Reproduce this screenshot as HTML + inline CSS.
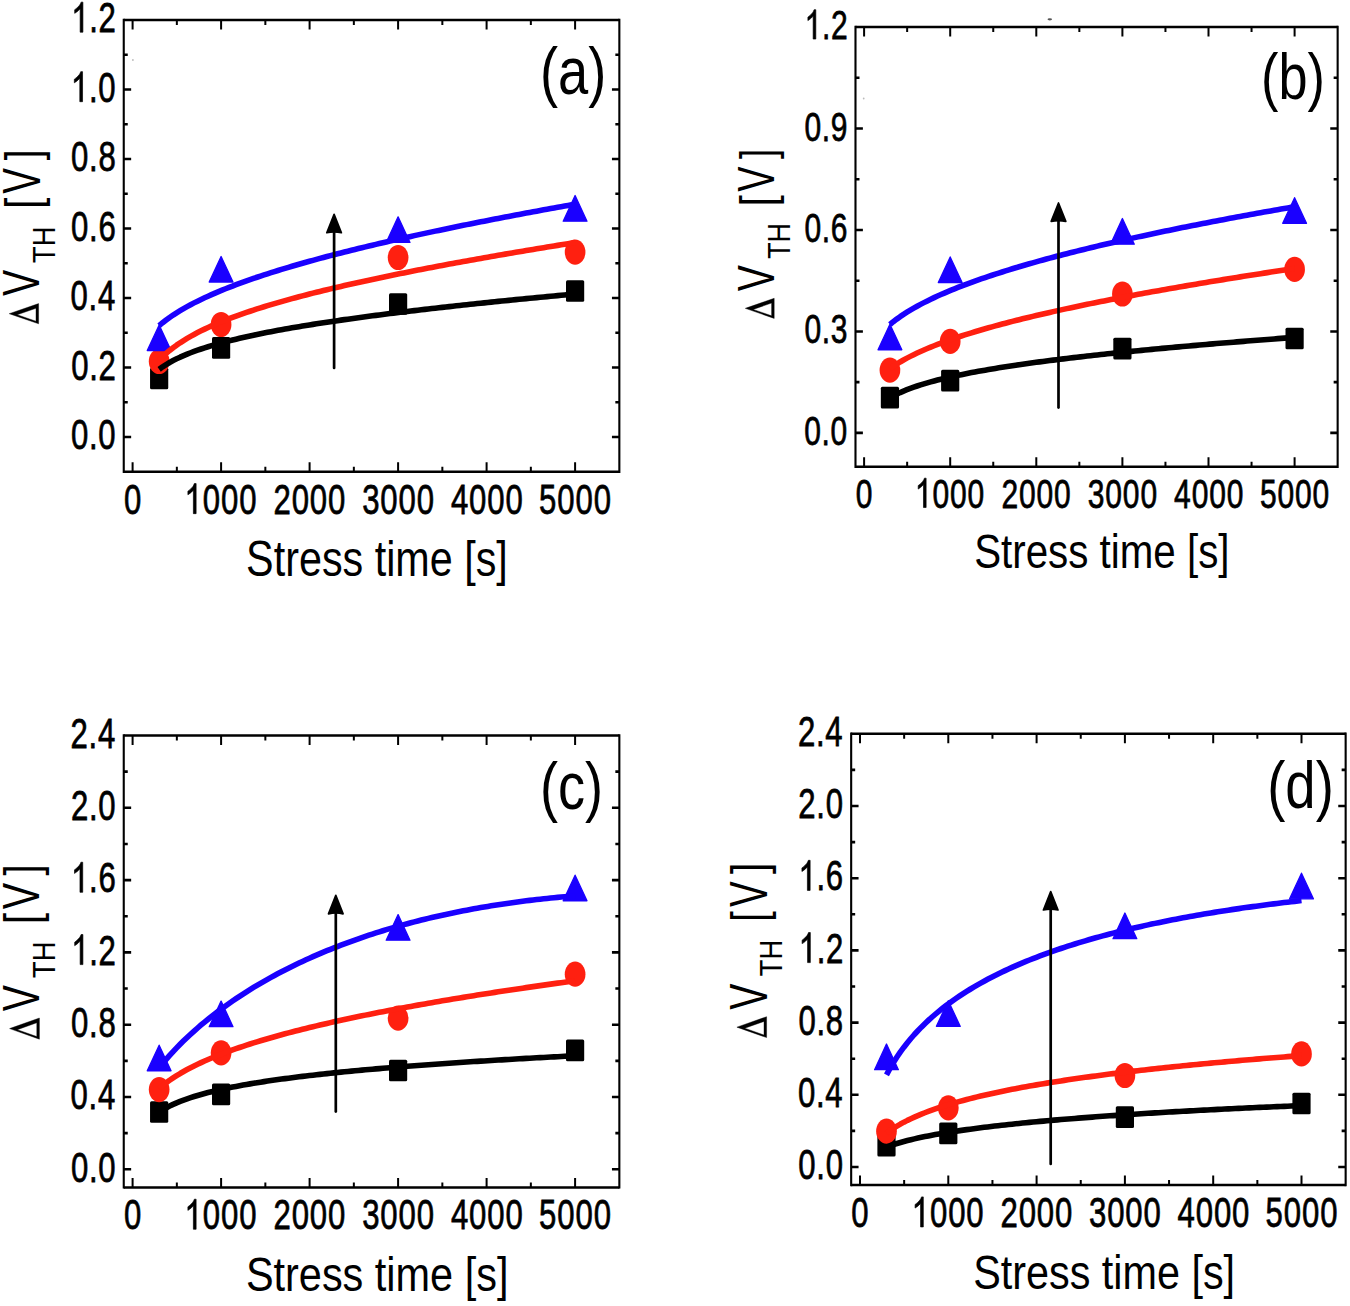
<!DOCTYPE html><html><head><meta charset="utf-8"><style>html,body{margin:0;padding:0;background:#fff;}svg{display:block;}text{font-family:"Liberation Sans",sans-serif;}</style></head><body><svg width="1350" height="1306" viewBox="0 0 1350 1306"><rect width="1350" height="1306" fill="#fff"/><g><path d="M123.75,20.00H619.35M123.75,471.75H619.35" stroke="#000" stroke-width="2.5" fill="none"/><path d="M123.75,18.80V472.95M619.35,18.80V472.95" stroke="#000" stroke-width="2.1" fill="none"/><path d="M132.60,471.75v-9.5M132.60,20.00v9.5M176.85,471.75v-5.0M176.85,20.00v5.0M221.10,471.75v-9.5M221.10,20.00v9.5M265.35,471.75v-5.0M265.35,20.00v5.0M309.60,471.75v-9.5M309.60,20.00v9.5M353.85,471.75v-5.0M353.85,20.00v5.0M398.10,471.75v-9.5M398.10,20.00v9.5M442.35,471.75v-5.0M442.35,20.00v5.0M486.60,471.75v-9.5M486.60,20.00v9.5M530.85,471.75v-5.0M530.85,20.00v5.0M575.10,471.75v-9.5M575.10,20.00v9.5" stroke="#000" stroke-width="2" fill="none"/><path d="M123.75,437.00h7.4M619.35,437.00h-7.4M123.75,402.25h4.0M619.35,402.25h-4.0M123.75,367.50h7.4M619.35,367.50h-7.4M123.75,332.75h4.0M619.35,332.75h-4.0M123.75,298.00h7.4M619.35,298.00h-7.4M123.75,263.25h4.0M619.35,263.25h-4.0M123.75,228.50h7.4M619.35,228.50h-7.4M123.75,193.75h4.0M619.35,193.75h-4.0M123.75,159.00h7.4M619.35,159.00h-7.4M123.75,124.25h4.0M619.35,124.25h-4.0M123.75,89.50h7.4M619.35,89.50h-7.4M123.75,54.75h4.0M619.35,54.75h-4.0" stroke="#000" stroke-width="2.6" fill="none"/><g transform="translate(123.49,513.65) scale(0.7800,1)"><text transform="translate(11.68,0) scale(0.95,1) translate(-11.68,0)" font-size="42.00" stroke="#000" stroke-width="0.75">0</text></g><g transform="translate(184.06,513.65) scale(0.7800,1)"><path transform="translate(11.68,0) scale(0.95,1) translate(-11.68,0) scale(0.04200,-0.04200)" d="M372.6,0 L284.7,0 L284.7,560 C250,528 200,495 150,470 C130,460 118,454 108.9,450 L108.9,535 C165,560 220,600 266,643 C290,667 305,690 315.4,716 L372.6,716 Z" stroke="#000" stroke-width="17.857"/><text transform="translate(35.03,0) scale(0.95,1) translate(-11.68,0)" font-size="42.00" stroke="#000" stroke-width="0.75">0</text><text transform="translate(58.38,0) scale(0.95,1) translate(-11.68,0)" font-size="42.00" stroke="#000" stroke-width="0.75">0</text><text transform="translate(81.73,0) scale(0.95,1) translate(-11.68,0)" font-size="42.00" stroke="#000" stroke-width="0.75">0</text></g><g transform="translate(272.99,513.65) scale(0.7800,1)"><text transform="translate(11.68,0) scale(0.95,1) translate(-11.68,0)" font-size="42.00" stroke="#000" stroke-width="0.75">2</text><text transform="translate(35.03,0) scale(0.95,1) translate(-11.68,0)" font-size="42.00" stroke="#000" stroke-width="0.75">0</text><text transform="translate(58.38,0) scale(0.95,1) translate(-11.68,0)" font-size="42.00" stroke="#000" stroke-width="0.75">0</text><text transform="translate(81.73,0) scale(0.95,1) translate(-11.68,0)" font-size="42.00" stroke="#000" stroke-width="0.75">0</text></g><g transform="translate(361.69,513.65) scale(0.7800,1)"><text transform="translate(11.68,0) scale(0.95,1) translate(-11.68,0)" font-size="42.00" stroke="#000" stroke-width="0.75">3</text><text transform="translate(35.03,0) scale(0.95,1) translate(-11.68,0)" font-size="42.00" stroke="#000" stroke-width="0.75">0</text><text transform="translate(58.38,0) scale(0.95,1) translate(-11.68,0)" font-size="42.00" stroke="#000" stroke-width="0.75">0</text><text transform="translate(81.73,0) scale(0.95,1) translate(-11.68,0)" font-size="42.00" stroke="#000" stroke-width="0.75">0</text></g><g transform="translate(450.43,513.65) scale(0.7800,1)"><text transform="translate(11.68,0) scale(0.95,1) translate(-11.68,0)" font-size="42.00" stroke="#000" stroke-width="0.75">4</text><text transform="translate(35.03,0) scale(0.95,1) translate(-11.68,0)" font-size="42.00" stroke="#000" stroke-width="0.75">0</text><text transform="translate(58.38,0) scale(0.95,1) translate(-11.68,0)" font-size="42.00" stroke="#000" stroke-width="0.75">0</text><text transform="translate(81.73,0) scale(0.95,1) translate(-11.68,0)" font-size="42.00" stroke="#000" stroke-width="0.75">0</text></g><g transform="translate(538.65,513.65) scale(0.7800,1)"><text transform="translate(11.68,0) scale(0.95,1) translate(-11.68,0)" font-size="42.00" stroke="#000" stroke-width="0.75">5</text><text transform="translate(35.03,0) scale(0.95,1) translate(-11.68,0)" font-size="42.00" stroke="#000" stroke-width="0.75">0</text><text transform="translate(58.38,0) scale(0.95,1) translate(-11.68,0)" font-size="42.00" stroke="#000" stroke-width="0.75">0</text><text transform="translate(81.73,0) scale(0.95,1) translate(-11.68,0)" font-size="42.00" stroke="#000" stroke-width="0.75">0</text></g><g transform="translate(70.49,449.20) scale(0.7800,1)"><text transform="translate(11.68,0) scale(0.95,1) translate(-11.68,0)" font-size="42.00" stroke="#000" stroke-width="0.75">0</text><text transform="translate(29.19,0) scale(0.95,1) translate(-5.84,0)" font-size="42.00" stroke="#000" stroke-width="0.75">.</text><text transform="translate(46.70,0) scale(0.95,1) translate(-11.68,0)" font-size="42.00" stroke="#000" stroke-width="0.75">0</text></g><g transform="translate(70.85,379.70) scale(0.7800,1)"><text transform="translate(11.68,0) scale(0.95,1) translate(-11.68,0)" font-size="42.00" stroke="#000" stroke-width="0.75">0</text><text transform="translate(29.19,0) scale(0.95,1) translate(-5.84,0)" font-size="42.00" stroke="#000" stroke-width="0.75">.</text><text transform="translate(46.70,0) scale(0.95,1) translate(-11.68,0)" font-size="42.00" stroke="#000" stroke-width="0.75">2</text></g><g transform="translate(70.16,310.20) scale(0.7800,1)"><text transform="translate(11.68,0) scale(0.95,1) translate(-11.68,0)" font-size="42.00" stroke="#000" stroke-width="0.75">0</text><text transform="translate(29.19,0) scale(0.95,1) translate(-5.84,0)" font-size="42.00" stroke="#000" stroke-width="0.75">.</text><text transform="translate(46.70,0) scale(0.95,1) translate(-11.68,0)" font-size="42.00" stroke="#000" stroke-width="0.75">4</text></g><g transform="translate(70.66,240.70) scale(0.7800,1)"><text transform="translate(11.68,0) scale(0.95,1) translate(-11.68,0)" font-size="42.00" stroke="#000" stroke-width="0.75">0</text><text transform="translate(29.19,0) scale(0.95,1) translate(-5.84,0)" font-size="42.00" stroke="#000" stroke-width="0.75">.</text><text transform="translate(46.70,0) scale(0.95,1) translate(-11.68,0)" font-size="42.00" stroke="#000" stroke-width="0.75">6</text></g><g transform="translate(70.62,171.20) scale(0.7800,1)"><text transform="translate(11.68,0) scale(0.95,1) translate(-11.68,0)" font-size="42.00" stroke="#000" stroke-width="0.75">0</text><text transform="translate(29.19,0) scale(0.95,1) translate(-5.84,0)" font-size="42.00" stroke="#000" stroke-width="0.75">.</text><text transform="translate(46.70,0) scale(0.95,1) translate(-11.68,0)" font-size="42.00" stroke="#000" stroke-width="0.75">8</text></g><g transform="translate(70.49,101.70) scale(0.7800,1)"><path transform="translate(11.68,0) scale(0.95,1) translate(-11.68,0) scale(0.04200,-0.04200)" d="M372.6,0 L284.7,0 L284.7,560 C250,528 200,495 150,470 C130,460 118,454 108.9,450 L108.9,535 C165,560 220,600 266,643 C290,667 305,690 315.4,716 L372.6,716 Z" stroke="#000" stroke-width="17.857"/><text transform="translate(29.19,0) scale(0.95,1) translate(-5.84,0)" font-size="42.00" stroke="#000" stroke-width="0.75">.</text><text transform="translate(46.70,0) scale(0.95,1) translate(-11.68,0)" font-size="42.00" stroke="#000" stroke-width="0.75">0</text></g><g transform="translate(70.85,32.20) scale(0.7800,1)"><path transform="translate(11.68,0) scale(0.95,1) translate(-11.68,0) scale(0.04200,-0.04200)" d="M372.6,0 L284.7,0 L284.7,560 C250,528 200,495 150,470 C130,460 118,454 108.9,450 L108.9,535 C165,560 220,600 266,643 C290,667 305,690 315.4,716 L372.6,716 Z" stroke="#000" stroke-width="17.857"/><text transform="translate(29.19,0) scale(0.95,1) translate(-5.84,0)" font-size="42.00" stroke="#000" stroke-width="0.75">.</text><text transform="translate(46.70,0) scale(0.95,1) translate(-11.68,0)" font-size="42.00" stroke="#000" stroke-width="0.75">2</text></g><text transform="translate(540.03,93.79) scale(0.8133,1)" font-family='"Liberation Sans", sans-serif' font-size="66.74" fill="#000">(a)</text><text transform="translate(246.10,576.20) scale(0.8187,1)" font-family='"Liberation Sans", sans-serif' font-size="50.48" fill="#000">Stress time [s]</text><path d="M9.20,313.70L38.60,323.80L38.60,303.60ZM17.20,314.76L36.00,308.30L36.00,321.22Z" fill="#000" fill-rule="evenodd" stroke="#000" stroke-width="0.4" stroke-linejoin="round"/><text transform="translate(39.00,296.00) rotate(-90) scale(0.7463,1)" font-family='"Liberation Sans", sans-serif' font-size="52.62" fill="#000">V</text><text transform="translate(55.10,262.90) rotate(-90) scale(0.8504,1)" font-family='"Liberation Sans", sans-serif' font-size="32.12" fill="#000">TH</text><text transform="translate(39.58,160.21) rotate(-90) scale(0.7748,1)" font-family='"Liberation Sans", sans-serif' font-size="50.59" fill="#000">]</text><text transform="translate(39.60,193.79) rotate(-90) scale(0.7219,1)" font-family='"Liberation Sans", sans-serif' font-size="53.34" fill="#000">V</text><text transform="translate(39.58,208.65) rotate(-90) scale(0.7947,1)" font-family='"Liberation Sans", sans-serif' font-size="50.59" fill="#000">[</text><rect x="150.05" y="367.65" width="18.2" height="21.7" rx="1.5" fill="#000"/><rect x="212.00" y="337.05" width="18.2" height="21.7" rx="1.5" fill="#000"/><rect x="389.00" y="293.15" width="18.2" height="21.7" rx="1.5" fill="#000"/><rect x="566.00" y="280.15" width="18.2" height="21.7" rx="1.5" fill="#000"/><ellipse cx="159.15" cy="361.50" rx="10.35" ry="12.6" fill="#ff2010"/><ellipse cx="221.10" cy="324.50" rx="10.35" ry="12.6" fill="#ff2010"/><ellipse cx="398.10" cy="257.50" rx="10.35" ry="12.6" fill="#ff2010"/><ellipse cx="575.10" cy="252.10" rx="10.35" ry="12.6" fill="#ff2010"/><path d="M159.15,325.00L171.05,350.60H147.25Z" fill="#1a00ff" stroke="#1a00ff" stroke-width="1.3" stroke-linejoin="round"/><path d="M221.10,256.50L233.00,282.10H209.20Z" fill="#1a00ff" stroke="#1a00ff" stroke-width="1.3" stroke-linejoin="round"/><path d="M398.10,216.85L410.00,242.45H386.20Z" fill="#1a00ff" stroke="#1a00ff" stroke-width="1.3" stroke-linejoin="round"/><path d="M575.10,195.55L587.00,221.15H563.20Z" fill="#1a00ff" stroke="#1a00ff" stroke-width="1.3" stroke-linejoin="round"/><path d="M159.15,369.36L162.65,366.83L166.14,364.56L169.64,362.49L173.13,360.58L176.63,358.81L180.12,357.16L183.62,355.61L187.11,354.15L190.61,352.76L194.10,351.45L197.60,350.20L201.09,349.00L204.59,347.85L208.09,346.75L211.58,345.69L215.08,344.66L218.57,343.67L222.07,342.72L225.56,341.79L229.06,340.89L232.55,340.01L236.05,339.16L239.54,338.33L243.04,337.52L246.53,336.74L250.03,335.97L253.53,335.21L257.02,334.48L260.52,333.76L264.01,333.05L267.51,332.36L271.00,331.68L274.50,331.01L277.99,330.36L281.49,329.72L284.98,329.08L288.48,328.46L291.97,327.85L295.47,327.25L298.97,326.66L302.46,326.07L305.96,325.50L309.45,324.93L312.95,324.37L316.44,323.82L319.94,323.27L323.43,322.74L326.93,322.21L330.42,321.68L333.92,321.16L337.41,320.65L340.91,320.14L344.41,319.64L347.90,319.15L351.40,318.66L354.89,318.17L358.39,317.69L361.88,317.22L365.38,316.75L368.87,316.28L372.37,315.82L375.86,315.37L379.36,314.91L382.85,314.47L386.35,314.02L389.84,313.58L393.34,313.14L396.84,312.71L400.33,312.28L403.83,311.86L407.32,311.43L410.82,311.01L414.31,310.60L417.81,310.19L421.30,309.78L424.80,309.37L428.29,308.96L431.79,308.56L435.28,308.17L438.78,307.77L442.28,307.38L445.77,306.99L449.27,306.60L452.76,306.21L456.26,305.83L459.75,305.45L463.25,305.07L466.74,304.70L470.24,304.32L473.73,303.95L477.23,303.58L480.72,303.22L484.22,302.85L487.72,302.49L491.21,302.13L494.71,301.77L498.20,301.41L501.70,301.06L505.19,300.71L508.69,300.35L512.18,300.00L515.68,299.66L519.17,299.31L522.67,298.97L526.16,298.62L529.66,298.28L533.16,297.94L536.65,297.61L540.15,297.27L543.64,296.94L547.14,296.60L550.63,296.27L554.13,295.94L557.62,295.61L561.12,295.28L564.61,294.96L568.11,294.63L571.60,294.31L575.10,293.99" stroke="#000" stroke-width="5.6" fill="none" stroke-linejoin="round" stroke-linecap="butt"/><path d="M159.15,360.30L162.65,356.70L166.14,353.45L169.64,350.48L173.13,347.73L176.63,345.17L180.12,342.78L183.62,340.53L187.11,338.40L190.61,336.37L194.10,334.45L197.60,332.60L201.09,330.83L204.59,329.13L208.09,327.50L211.58,325.92L215.08,324.39L218.57,322.91L222.07,321.47L225.56,320.08L229.06,318.72L232.55,317.39L236.05,316.10L239.54,314.85L243.04,313.61L246.53,312.41L250.03,311.23L253.53,310.08L257.02,308.95L260.52,307.84L264.01,306.75L267.51,305.68L271.00,304.62L274.50,303.59L277.99,302.57L281.49,301.57L284.98,300.58L288.48,299.61L291.97,298.65L295.47,297.70L298.97,296.77L302.46,295.85L305.96,294.94L309.45,294.04L312.95,293.15L316.44,292.28L319.94,291.41L323.43,290.55L326.93,289.70L330.42,288.86L333.92,288.03L337.41,287.21L340.91,286.40L344.41,285.59L347.90,284.79L351.40,284.00L354.89,283.22L358.39,282.44L361.88,281.67L365.38,280.90L368.87,280.14L372.37,279.39L375.86,278.65L379.36,277.91L382.85,277.17L386.35,276.44L389.84,275.72L393.34,275.00L396.84,274.29L400.33,273.58L403.83,272.88L407.32,272.18L410.82,271.48L414.31,270.79L417.81,270.11L421.30,269.43L424.80,268.75L428.29,268.08L431.79,267.41L435.28,266.74L438.78,266.08L442.28,265.42L445.77,264.77L449.27,264.12L452.76,263.47L456.26,262.83L459.75,262.19L463.25,261.55L466.74,260.91L470.24,260.28L473.73,259.66L477.23,259.03L480.72,258.41L484.22,257.79L487.72,257.17L491.21,256.56L494.71,255.95L498.20,255.34L501.70,254.74L505.19,254.13L508.69,253.53L512.18,252.93L515.68,252.34L519.17,251.75L522.67,251.15L526.16,250.57L529.66,249.98L533.16,249.40L536.65,248.81L540.15,248.23L543.64,247.66L547.14,247.08L550.63,246.51L554.13,245.94L557.62,245.37L561.12,244.80L564.61,244.23L568.11,243.67L571.60,243.11L575.10,242.55" stroke="#ff2010" stroke-width="5.6" fill="none" stroke-linejoin="round" stroke-linecap="butt"/><path d="M159.15,325.66L162.65,322.72L166.14,320.00L169.64,317.45L173.13,315.06L176.63,312.79L180.12,310.64L183.62,308.58L187.11,306.61L190.61,304.72L194.10,302.89L197.60,301.13L201.09,299.43L204.59,297.78L208.09,296.18L211.58,294.62L215.08,293.10L218.57,291.62L222.07,290.18L225.56,288.77L229.06,287.39L232.55,286.04L236.05,284.71L239.54,283.41L243.04,282.14L246.53,280.89L250.03,279.66L253.53,278.45L257.02,277.26L260.52,276.09L264.01,274.94L267.51,273.81L271.00,272.69L274.50,271.59L277.99,270.50L281.49,269.42L284.98,268.36L288.48,267.32L291.97,266.28L295.47,265.26L298.97,264.25L302.46,263.26L305.96,262.27L309.45,261.29L312.95,260.33L316.44,259.37L319.94,258.42L323.43,257.48L326.93,256.56L330.42,255.64L333.92,254.73L337.41,253.82L340.91,252.93L344.41,252.04L347.90,251.16L351.40,250.29L354.89,249.42L358.39,248.56L361.88,247.71L365.38,246.87L368.87,246.03L372.37,245.20L375.86,244.37L379.36,243.55L382.85,242.74L386.35,241.93L389.84,241.12L393.34,240.33L396.84,239.53L400.33,238.74L403.83,237.96L407.32,237.18L410.82,236.41L414.31,235.64L417.81,234.88L421.30,234.12L424.80,233.37L428.29,232.62L431.79,231.87L435.28,231.13L438.78,230.39L442.28,229.66L445.77,228.93L449.27,228.20L452.76,227.48L456.26,226.76L459.75,226.05L463.25,225.34L466.74,224.63L470.24,223.92L473.73,223.22L477.23,222.53L480.72,221.83L484.22,221.14L487.72,220.45L491.21,219.77L494.71,219.09L498.20,218.41L501.70,217.73L505.19,217.06L508.69,216.39L512.18,215.72L515.68,215.06L519.17,214.40L522.67,213.74L526.16,213.08L529.66,212.43L533.16,211.78L536.65,211.13L540.15,210.48L543.64,209.84L547.14,209.20L550.63,208.56L554.13,207.92L557.62,207.29L561.12,206.66L564.61,206.03L568.11,205.40L571.60,204.77L575.10,204.15" stroke="#1a00ff" stroke-width="5.6" fill="none" stroke-linejoin="round" stroke-linecap="butt"/><path d="M334.10,368.00V228.30" stroke="#000" stroke-width="2.7" fill="none" stroke-linecap="round"/><path d="M334.10,214.30L341.40,232.70Q334.10,231.10 326.80,232.70Z" fill="#000" stroke="#000" stroke-width="1.7" stroke-linejoin="round"/></g>
<g><path d="M855.49,27.06H1337.65M855.49,466.72H1337.65" stroke="#000" stroke-width="2.5" fill="none"/><path d="M855.49,25.86V467.92M1337.65,25.86V467.92" stroke="#000" stroke-width="2.1" fill="none"/><path d="M864.10,466.72v-9.5M864.10,27.06v9.5M907.15,466.72v-5.0M907.15,27.06v5.0M950.20,466.72v-9.5M950.20,27.06v9.5M993.25,466.72v-5.0M993.25,27.06v5.0M1036.30,466.72v-9.5M1036.30,27.06v9.5M1079.35,466.72v-5.0M1079.35,27.06v5.0M1122.40,466.72v-9.5M1122.40,27.06v9.5M1165.45,466.72v-5.0M1165.45,27.06v5.0M1208.50,466.72v-9.5M1208.50,27.06v9.5M1251.55,466.72v-5.0M1251.55,27.06v5.0M1294.60,466.72v-9.5M1294.60,27.06v9.5" stroke="#000" stroke-width="2" fill="none"/><path d="M855.49,432.90h7.4M1337.65,432.90h-7.4M855.49,382.17h4.0M1337.65,382.17h-4.0M855.49,331.44h7.4M1337.65,331.44h-7.4M855.49,280.71h4.0M1337.65,280.71h-4.0M855.49,229.98h7.4M1337.65,229.98h-7.4M855.49,179.25h4.0M1337.65,179.25h-4.0M855.49,128.52h7.4M1337.65,128.52h-7.4M855.49,77.79h4.0M1337.65,77.79h-4.0" stroke="#000" stroke-width="2.6" fill="none"/><g transform="translate(855.32,507.52) scale(0.7700,1)"><text transform="translate(11.40,0) scale(0.95,1) translate(-11.40,0)" font-size="41.00" stroke="#000" stroke-width="0.75">0</text></g><g transform="translate(914.51,507.52) scale(0.7700,1)"><path transform="translate(11.40,0) scale(0.95,1) translate(-11.40,0) scale(0.04100,-0.04100)" d="M372.6,0 L284.7,0 L284.7,560 C250,528 200,495 150,470 C130,460 118,454 108.9,450 L108.9,535 C165,560 220,600 266,643 C290,667 305,690 315.4,716 L372.6,716 Z" stroke="#000" stroke-width="18.293"/><text transform="translate(34.19,0) scale(0.95,1) translate(-11.40,0)" font-size="41.00" stroke="#000" stroke-width="0.75">0</text><text transform="translate(56.99,0) scale(0.95,1) translate(-11.40,0)" font-size="41.00" stroke="#000" stroke-width="0.75">0</text><text transform="translate(79.79,0) scale(0.95,1) translate(-11.40,0)" font-size="41.00" stroke="#000" stroke-width="0.75">0</text></g><g transform="translate(1001.02,507.52) scale(0.7700,1)"><text transform="translate(11.40,0) scale(0.95,1) translate(-11.40,0)" font-size="41.00" stroke="#000" stroke-width="0.75">2</text><text transform="translate(34.19,0) scale(0.95,1) translate(-11.40,0)" font-size="41.00" stroke="#000" stroke-width="0.75">0</text><text transform="translate(56.99,0) scale(0.95,1) translate(-11.40,0)" font-size="41.00" stroke="#000" stroke-width="0.75">0</text><text transform="translate(79.79,0) scale(0.95,1) translate(-11.40,0)" font-size="41.00" stroke="#000" stroke-width="0.75">0</text></g><g transform="translate(1087.31,507.52) scale(0.7700,1)"><text transform="translate(11.40,0) scale(0.95,1) translate(-11.40,0)" font-size="41.00" stroke="#000" stroke-width="0.75">3</text><text transform="translate(34.19,0) scale(0.95,1) translate(-11.40,0)" font-size="41.00" stroke="#000" stroke-width="0.75">0</text><text transform="translate(56.99,0) scale(0.95,1) translate(-11.40,0)" font-size="41.00" stroke="#000" stroke-width="0.75">0</text><text transform="translate(79.79,0) scale(0.95,1) translate(-11.40,0)" font-size="41.00" stroke="#000" stroke-width="0.75">0</text></g><g transform="translate(1173.65,507.52) scale(0.7700,1)"><text transform="translate(11.40,0) scale(0.95,1) translate(-11.40,0)" font-size="41.00" stroke="#000" stroke-width="0.75">4</text><text transform="translate(34.19,0) scale(0.95,1) translate(-11.40,0)" font-size="41.00" stroke="#000" stroke-width="0.75">0</text><text transform="translate(56.99,0) scale(0.95,1) translate(-11.40,0)" font-size="41.00" stroke="#000" stroke-width="0.75">0</text><text transform="translate(79.79,0) scale(0.95,1) translate(-11.40,0)" font-size="41.00" stroke="#000" stroke-width="0.75">0</text></g><g transform="translate(1259.48,507.52) scale(0.7700,1)"><text transform="translate(11.40,0) scale(0.95,1) translate(-11.40,0)" font-size="41.00" stroke="#000" stroke-width="0.75">5</text><text transform="translate(34.19,0) scale(0.95,1) translate(-11.40,0)" font-size="41.00" stroke="#000" stroke-width="0.75">0</text><text transform="translate(56.99,0) scale(0.95,1) translate(-11.40,0)" font-size="41.00" stroke="#000" stroke-width="0.75">0</text><text transform="translate(79.79,0) scale(0.95,1) translate(-11.40,0)" font-size="41.00" stroke="#000" stroke-width="0.75">0</text></g><g transform="translate(803.84,444.90) scale(0.7700,1)"><text transform="translate(11.40,0) scale(0.95,1) translate(-11.40,0)" font-size="41.00" stroke="#000" stroke-width="0.75">0</text><text transform="translate(28.50,0) scale(0.95,1) translate(-5.70,0)" font-size="41.00" stroke="#000" stroke-width="0.75">.</text><text transform="translate(45.59,0) scale(0.95,1) translate(-11.40,0)" font-size="41.00" stroke="#000" stroke-width="0.75">0</text></g><g transform="translate(804.00,343.44) scale(0.7700,1)"><text transform="translate(11.40,0) scale(0.95,1) translate(-11.40,0)" font-size="41.00" stroke="#000" stroke-width="0.75">0</text><text transform="translate(28.50,0) scale(0.95,1) translate(-5.70,0)" font-size="41.00" stroke="#000" stroke-width="0.75">.</text><text transform="translate(45.59,0) scale(0.95,1) translate(-11.40,0)" font-size="41.00" stroke="#000" stroke-width="0.75">3</text></g><g transform="translate(804.00,241.98) scale(0.7700,1)"><text transform="translate(11.40,0) scale(0.95,1) translate(-11.40,0)" font-size="41.00" stroke="#000" stroke-width="0.75">0</text><text transform="translate(28.50,0) scale(0.95,1) translate(-5.70,0)" font-size="41.00" stroke="#000" stroke-width="0.75">.</text><text transform="translate(45.59,0) scale(0.95,1) translate(-11.40,0)" font-size="41.00" stroke="#000" stroke-width="0.75">6</text></g><g transform="translate(804.09,140.52) scale(0.7700,1)"><text transform="translate(11.40,0) scale(0.95,1) translate(-11.40,0)" font-size="41.00" stroke="#000" stroke-width="0.75">0</text><text transform="translate(28.50,0) scale(0.95,1) translate(-5.70,0)" font-size="41.00" stroke="#000" stroke-width="0.75">.</text><text transform="translate(45.59,0) scale(0.95,1) translate(-11.40,0)" font-size="41.00" stroke="#000" stroke-width="0.75">9</text></g><g transform="translate(804.19,39.06) scale(0.7700,1)"><path transform="translate(11.40,0) scale(0.95,1) translate(-11.40,0) scale(0.04100,-0.04100)" d="M372.6,0 L284.7,0 L284.7,560 C250,528 200,495 150,470 C130,460 118,454 108.9,450 L108.9,535 C165,560 220,600 266,643 C290,667 305,690 315.4,716 L372.6,716 Z" stroke="#000" stroke-width="18.293"/><text transform="translate(28.50,0) scale(0.95,1) translate(-5.70,0)" font-size="41.00" stroke="#000" stroke-width="0.75">.</text><text transform="translate(45.59,0) scale(0.95,1) translate(-11.40,0)" font-size="41.00" stroke="#000" stroke-width="0.75">2</text></g><text transform="translate(1261.06,98.61) scale(0.8080,1)" font-family='"Liberation Sans", sans-serif' font-size="64.70" fill="#000">(b)</text><text transform="translate(974.15,567.88) scale(0.8453,1)" font-family='"Liberation Sans", sans-serif' font-size="47.70" fill="#000">Stress time [s]</text><path d="M745.30,308.35L774.20,318.40L774.20,298.30ZM753.22,309.41L771.60,303.02L771.60,315.80Z" fill="#000" fill-rule="evenodd" stroke="#000" stroke-width="0.4" stroke-linejoin="round"/><text transform="translate(774.20,291.30) rotate(-90) scale(0.7602,1)" font-family='"Liberation Sans", sans-serif' font-size="51.45" fill="#000">V</text><text transform="translate(789.80,258.79) rotate(-90) scale(0.8707,1)" font-family='"Liberation Sans", sans-serif' font-size="30.81" fill="#000">TH</text><text transform="translate(773.77,158.89) rotate(-90) scale(0.7606,1)" font-family='"Liberation Sans", sans-serif' font-size="48.23" fill="#000">]</text><text transform="translate(774.20,191.69) rotate(-90) scale(0.7366,1)" font-family='"Liberation Sans", sans-serif' font-size="51.45" fill="#000">V</text><text transform="translate(773.77,206.35) rotate(-90) scale(0.8335,1)" font-family='"Liberation Sans", sans-serif' font-size="48.23" fill="#000">[</text><rect x="880.83" y="386.75" width="18.2" height="21.7" rx="1.5" fill="#000"/><rect x="941.10" y="369.75" width="18.2" height="21.7" rx="1.5" fill="#000"/><rect x="1113.30" y="337.75" width="18.2" height="21.7" rx="1.5" fill="#000"/><rect x="1285.50" y="327.65" width="18.2" height="21.7" rx="1.5" fill="#000"/><ellipse cx="889.93" cy="370.10" rx="10.35" ry="12.6" fill="#ff2010"/><ellipse cx="950.20" cy="341.40" rx="10.35" ry="12.6" fill="#ff2010"/><ellipse cx="1122.40" cy="294.00" rx="10.35" ry="12.6" fill="#ff2010"/><ellipse cx="1294.60" cy="269.40" rx="10.35" ry="12.6" fill="#ff2010"/><path d="M889.93,324.15L901.83,349.75H878.03Z" fill="#1a00ff" stroke="#1a00ff" stroke-width="1.3" stroke-linejoin="round"/><path d="M950.20,256.95L962.10,282.55H938.30Z" fill="#1a00ff" stroke="#1a00ff" stroke-width="1.3" stroke-linejoin="round"/><path d="M1122.40,218.55L1134.30,244.15H1110.50Z" fill="#1a00ff" stroke="#1a00ff" stroke-width="1.3" stroke-linejoin="round"/><path d="M1294.60,197.70L1306.50,223.30H1282.70Z" fill="#1a00ff" stroke="#1a00ff" stroke-width="1.3" stroke-linejoin="round"/><path d="M889.93,397.91L893.33,395.97L896.73,394.20L900.13,392.59L903.53,391.09L906.93,389.70L910.33,388.40L913.73,387.17L917.13,386.01L920.54,384.91L923.94,383.86L927.34,382.85L930.74,381.89L934.14,380.97L937.54,380.08L940.94,379.23L944.34,378.40L947.74,377.60L951.14,376.83L954.54,376.08L957.94,375.35L961.34,374.64L964.74,373.95L968.14,373.27L971.54,372.62L974.94,371.98L978.35,371.35L981.75,370.74L985.15,370.14L988.55,369.55L991.95,368.97L995.35,368.41L998.75,367.86L1002.15,367.31L1005.55,366.78L1008.95,366.26L1012.35,365.74L1015.75,365.23L1019.15,364.73L1022.55,364.24L1025.95,363.76L1029.35,363.28L1032.75,362.81L1036.16,362.35L1039.56,361.90L1042.96,361.45L1046.36,361.00L1049.76,360.56L1053.16,360.13L1056.56,359.70L1059.96,359.28L1063.36,358.86L1066.76,358.45L1070.16,358.04L1073.56,357.64L1076.96,357.24L1080.36,356.85L1083.76,356.46L1087.16,356.07L1090.56,355.69L1093.97,355.31L1097.37,354.94L1100.77,354.57L1104.17,354.20L1107.57,353.83L1110.97,353.47L1114.37,353.12L1117.77,352.76L1121.17,352.41L1124.57,352.06L1127.97,351.72L1131.37,351.37L1134.77,351.03L1138.17,350.70L1141.57,350.36L1144.97,350.03L1148.37,349.70L1151.78,349.38L1155.18,349.05L1158.58,348.73L1161.98,348.41L1165.38,348.09L1168.78,347.78L1172.18,347.47L1175.58,347.16L1178.98,346.85L1182.38,346.54L1185.78,346.24L1189.18,345.93L1192.58,345.63L1195.98,345.34L1199.38,345.04L1202.78,344.74L1206.18,344.45L1209.59,344.16L1212.99,343.87L1216.39,343.58L1219.79,343.30L1223.19,343.01L1226.59,342.73L1229.99,342.45L1233.39,342.17L1236.79,341.89L1240.19,341.61L1243.59,341.34L1246.99,341.06L1250.39,340.79L1253.79,340.52L1257.19,340.25L1260.59,339.98L1263.99,339.71L1267.40,339.45L1270.80,339.18L1274.20,338.92L1277.60,338.66L1281.00,338.40L1284.40,338.14L1287.80,337.88L1291.20,337.62L1294.60,337.37" stroke="#000" stroke-width="5.6" fill="none" stroke-linejoin="round" stroke-linecap="butt"/><path d="M889.93,368.70L893.33,366.30L896.73,364.06L900.13,361.97L903.53,360.00L906.93,358.13L910.33,356.36L913.73,354.66L917.13,353.04L920.54,351.48L923.94,349.97L927.34,348.52L930.74,347.11L934.14,345.75L937.54,344.42L940.94,343.13L944.34,341.88L947.74,340.65L951.14,339.46L954.54,338.29L957.94,337.15L961.34,336.03L964.74,334.93L968.14,333.86L971.54,332.80L974.94,331.77L978.35,330.75L981.75,329.75L985.15,328.77L988.55,327.80L991.95,326.85L995.35,325.91L998.75,324.98L1002.15,324.07L1005.55,323.17L1008.95,322.28L1012.35,321.40L1015.75,320.54L1019.15,319.68L1022.55,318.84L1025.95,318.00L1029.35,317.17L1032.75,316.36L1036.16,315.55L1039.56,314.75L1042.96,313.96L1046.36,313.18L1049.76,312.40L1053.16,311.63L1056.56,310.87L1059.96,310.12L1063.36,309.37L1066.76,308.63L1070.16,307.90L1073.56,307.17L1076.96,306.45L1080.36,305.74L1083.76,305.03L1087.16,304.32L1090.56,303.63L1093.97,302.93L1097.37,302.25L1100.77,301.56L1104.17,300.89L1107.57,300.22L1110.97,299.55L1114.37,298.88L1117.77,298.23L1121.17,297.57L1124.57,296.92L1127.97,296.28L1131.37,295.64L1134.77,295.00L1138.17,294.37L1141.57,293.74L1144.97,293.11L1148.37,292.49L1151.78,291.87L1155.18,291.26L1158.58,290.64L1161.98,290.04L1165.38,289.43L1168.78,288.83L1172.18,288.23L1175.58,287.64L1178.98,287.05L1182.38,286.46L1185.78,285.87L1189.18,285.29L1192.58,284.71L1195.98,284.14L1199.38,283.56L1202.78,282.99L1206.18,282.42L1209.59,281.86L1212.99,281.29L1216.39,280.73L1219.79,280.18L1223.19,279.62L1226.59,279.07L1229.99,278.52L1233.39,277.97L1236.79,277.42L1240.19,276.88L1243.59,276.34L1246.99,275.80L1250.39,275.26L1253.79,274.73L1257.19,274.20L1260.59,273.67L1263.99,273.14L1267.40,272.61L1270.80,272.09L1274.20,271.56L1277.60,271.04L1281.00,270.53L1284.40,270.01L1287.80,269.50L1291.20,268.98L1294.60,268.47" stroke="#ff2010" stroke-width="5.6" fill="none" stroke-linejoin="round" stroke-linecap="butt"/><path d="M889.93,324.46L893.33,321.68L896.73,319.10L900.13,316.67L903.53,314.38L906.93,312.20L910.33,310.12L913.73,308.14L917.13,306.23L920.54,304.40L923.94,302.63L927.34,300.91L930.74,299.25L934.14,297.64L937.54,296.08L940.94,294.56L944.34,293.07L947.74,291.62L951.14,290.21L954.54,288.83L957.94,287.47L961.34,286.15L964.74,284.85L968.14,283.58L971.54,282.33L974.94,281.10L978.35,279.89L981.75,278.70L985.15,277.54L988.55,276.39L991.95,275.26L995.35,274.14L998.75,273.05L1002.15,271.96L1005.55,270.89L1008.95,269.84L1012.35,268.80L1015.75,267.77L1019.15,266.76L1022.55,265.76L1025.95,264.77L1029.35,263.79L1032.75,262.82L1036.16,261.87L1039.56,260.92L1042.96,259.98L1046.36,259.06L1049.76,258.14L1053.16,257.23L1056.56,256.33L1059.96,255.44L1063.36,254.56L1066.76,253.68L1070.16,252.82L1073.56,251.96L1076.96,251.11L1080.36,250.26L1083.76,249.43L1087.16,248.60L1090.56,247.77L1093.97,246.96L1097.37,246.15L1100.77,245.34L1104.17,244.54L1107.57,243.75L1110.97,242.97L1114.37,242.19L1117.77,241.41L1121.17,240.64L1124.57,239.88L1127.97,239.12L1131.37,238.37L1134.77,237.62L1138.17,236.88L1141.57,236.14L1144.97,235.40L1148.37,234.67L1151.78,233.95L1155.18,233.23L1158.58,232.51L1161.98,231.80L1165.38,231.09L1168.78,230.39L1172.18,229.69L1175.58,229.00L1178.98,228.30L1182.38,227.62L1185.78,226.93L1189.18,226.25L1192.58,225.58L1195.98,224.90L1199.38,224.23L1202.78,223.57L1206.18,222.91L1209.59,222.25L1212.99,221.59L1216.39,220.94L1219.79,220.29L1223.19,219.64L1226.59,219.00L1229.99,218.36L1233.39,217.72L1236.79,217.09L1240.19,216.46L1243.59,215.83L1246.99,215.20L1250.39,214.58L1253.79,213.96L1257.19,213.34L1260.59,212.73L1263.99,212.11L1267.40,211.51L1270.80,210.90L1274.20,210.29L1277.60,209.69L1281.00,209.09L1284.40,208.50L1287.80,207.90L1291.20,207.31L1294.60,206.72" stroke="#1a00ff" stroke-width="5.6" fill="none" stroke-linejoin="round" stroke-linecap="butt"/><path d="M1058.50,407.60V217.00" stroke="#000" stroke-width="2.7" fill="none" stroke-linecap="round"/><path d="M1058.50,203.00L1065.80,221.40Q1058.50,219.80 1051.20,221.40Z" fill="#000" stroke="#000" stroke-width="1.7" stroke-linejoin="round"/></g>
<g><path d="M123.75,735.50H619.35M123.75,1187.38H619.35" stroke="#000" stroke-width="2.5" fill="none"/><path d="M123.75,734.30V1188.58M619.35,734.30V1188.58" stroke="#000" stroke-width="2.1" fill="none"/><path d="M132.60,1187.38v-9.5M132.60,735.50v9.5M176.85,1187.38v-5.0M176.85,735.50v5.0M221.10,1187.38v-9.5M221.10,735.50v9.5M265.35,1187.38v-5.0M265.35,735.50v5.0M309.60,1187.38v-9.5M309.60,735.50v9.5M353.85,1187.38v-5.0M353.85,735.50v5.0M398.10,1187.38v-9.5M398.10,735.50v9.5M442.35,1187.38v-5.0M442.35,735.50v5.0M486.60,1187.38v-9.5M486.60,735.50v9.5M530.85,1187.38v-5.0M530.85,735.50v5.0M575.10,1187.38v-9.5M575.10,735.50v9.5" stroke="#000" stroke-width="2" fill="none"/><path d="M123.75,1169.30h7.4M619.35,1169.30h-7.4M123.75,1133.15h4.0M619.35,1133.15h-4.0M123.75,1097.00h7.4M619.35,1097.00h-7.4M123.75,1060.85h4.0M619.35,1060.85h-4.0M123.75,1024.70h7.4M619.35,1024.70h-7.4M123.75,988.55h4.0M619.35,988.55h-4.0M123.75,952.40h7.4M619.35,952.40h-7.4M123.75,916.25h4.0M619.35,916.25h-4.0M123.75,880.10h7.4M619.35,880.10h-7.4M123.75,843.95h4.0M619.35,843.95h-4.0M123.75,807.80h7.4M619.35,807.80h-7.4M123.75,771.65h4.0M619.35,771.65h-4.0" stroke="#000" stroke-width="2.6" fill="none"/><g transform="translate(123.49,1229.28) scale(0.7800,1)"><text transform="translate(11.68,0) scale(0.95,1) translate(-11.68,0)" font-size="42.00" stroke="#000" stroke-width="0.75">0</text></g><g transform="translate(184.06,1229.28) scale(0.7800,1)"><path transform="translate(11.68,0) scale(0.95,1) translate(-11.68,0) scale(0.04200,-0.04200)" d="M372.6,0 L284.7,0 L284.7,560 C250,528 200,495 150,470 C130,460 118,454 108.9,450 L108.9,535 C165,560 220,600 266,643 C290,667 305,690 315.4,716 L372.6,716 Z" stroke="#000" stroke-width="17.857"/><text transform="translate(35.03,0) scale(0.95,1) translate(-11.68,0)" font-size="42.00" stroke="#000" stroke-width="0.75">0</text><text transform="translate(58.38,0) scale(0.95,1) translate(-11.68,0)" font-size="42.00" stroke="#000" stroke-width="0.75">0</text><text transform="translate(81.73,0) scale(0.95,1) translate(-11.68,0)" font-size="42.00" stroke="#000" stroke-width="0.75">0</text></g><g transform="translate(272.99,1229.28) scale(0.7800,1)"><text transform="translate(11.68,0) scale(0.95,1) translate(-11.68,0)" font-size="42.00" stroke="#000" stroke-width="0.75">2</text><text transform="translate(35.03,0) scale(0.95,1) translate(-11.68,0)" font-size="42.00" stroke="#000" stroke-width="0.75">0</text><text transform="translate(58.38,0) scale(0.95,1) translate(-11.68,0)" font-size="42.00" stroke="#000" stroke-width="0.75">0</text><text transform="translate(81.73,0) scale(0.95,1) translate(-11.68,0)" font-size="42.00" stroke="#000" stroke-width="0.75">0</text></g><g transform="translate(361.69,1229.28) scale(0.7800,1)"><text transform="translate(11.68,0) scale(0.95,1) translate(-11.68,0)" font-size="42.00" stroke="#000" stroke-width="0.75">3</text><text transform="translate(35.03,0) scale(0.95,1) translate(-11.68,0)" font-size="42.00" stroke="#000" stroke-width="0.75">0</text><text transform="translate(58.38,0) scale(0.95,1) translate(-11.68,0)" font-size="42.00" stroke="#000" stroke-width="0.75">0</text><text transform="translate(81.73,0) scale(0.95,1) translate(-11.68,0)" font-size="42.00" stroke="#000" stroke-width="0.75">0</text></g><g transform="translate(450.43,1229.28) scale(0.7800,1)"><text transform="translate(11.68,0) scale(0.95,1) translate(-11.68,0)" font-size="42.00" stroke="#000" stroke-width="0.75">4</text><text transform="translate(35.03,0) scale(0.95,1) translate(-11.68,0)" font-size="42.00" stroke="#000" stroke-width="0.75">0</text><text transform="translate(58.38,0) scale(0.95,1) translate(-11.68,0)" font-size="42.00" stroke="#000" stroke-width="0.75">0</text><text transform="translate(81.73,0) scale(0.95,1) translate(-11.68,0)" font-size="42.00" stroke="#000" stroke-width="0.75">0</text></g><g transform="translate(538.65,1229.28) scale(0.7800,1)"><text transform="translate(11.68,0) scale(0.95,1) translate(-11.68,0)" font-size="42.00" stroke="#000" stroke-width="0.75">5</text><text transform="translate(35.03,0) scale(0.95,1) translate(-11.68,0)" font-size="42.00" stroke="#000" stroke-width="0.75">0</text><text transform="translate(58.38,0) scale(0.95,1) translate(-11.68,0)" font-size="42.00" stroke="#000" stroke-width="0.75">0</text><text transform="translate(81.73,0) scale(0.95,1) translate(-11.68,0)" font-size="42.00" stroke="#000" stroke-width="0.75">0</text></g><g transform="translate(70.49,1181.50) scale(0.7800,1)"><text transform="translate(11.68,0) scale(0.95,1) translate(-11.68,0)" font-size="42.00" stroke="#000" stroke-width="0.75">0</text><text transform="translate(29.19,0) scale(0.95,1) translate(-5.84,0)" font-size="42.00" stroke="#000" stroke-width="0.75">.</text><text transform="translate(46.70,0) scale(0.95,1) translate(-11.68,0)" font-size="42.00" stroke="#000" stroke-width="0.75">0</text></g><g transform="translate(70.16,1109.20) scale(0.7800,1)"><text transform="translate(11.68,0) scale(0.95,1) translate(-11.68,0)" font-size="42.00" stroke="#000" stroke-width="0.75">0</text><text transform="translate(29.19,0) scale(0.95,1) translate(-5.84,0)" font-size="42.00" stroke="#000" stroke-width="0.75">.</text><text transform="translate(46.70,0) scale(0.95,1) translate(-11.68,0)" font-size="42.00" stroke="#000" stroke-width="0.75">4</text></g><g transform="translate(70.62,1036.90) scale(0.7800,1)"><text transform="translate(11.68,0) scale(0.95,1) translate(-11.68,0)" font-size="42.00" stroke="#000" stroke-width="0.75">0</text><text transform="translate(29.19,0) scale(0.95,1) translate(-5.84,0)" font-size="42.00" stroke="#000" stroke-width="0.75">.</text><text transform="translate(46.70,0) scale(0.95,1) translate(-11.68,0)" font-size="42.00" stroke="#000" stroke-width="0.75">8</text></g><g transform="translate(70.85,964.60) scale(0.7800,1)"><path transform="translate(11.68,0) scale(0.95,1) translate(-11.68,0) scale(0.04200,-0.04200)" d="M372.6,0 L284.7,0 L284.7,560 C250,528 200,495 150,470 C130,460 118,454 108.9,450 L108.9,535 C165,560 220,600 266,643 C290,667 305,690 315.4,716 L372.6,716 Z" stroke="#000" stroke-width="17.857"/><text transform="translate(29.19,0) scale(0.95,1) translate(-5.84,0)" font-size="42.00" stroke="#000" stroke-width="0.75">.</text><text transform="translate(46.70,0) scale(0.95,1) translate(-11.68,0)" font-size="42.00" stroke="#000" stroke-width="0.75">2</text></g><g transform="translate(70.66,892.30) scale(0.7800,1)"><path transform="translate(11.68,0) scale(0.95,1) translate(-11.68,0) scale(0.04200,-0.04200)" d="M372.6,0 L284.7,0 L284.7,560 C250,528 200,495 150,470 C130,460 118,454 108.9,450 L108.9,535 C165,560 220,600 266,643 C290,667 305,690 315.4,716 L372.6,716 Z" stroke="#000" stroke-width="17.857"/><text transform="translate(29.19,0) scale(0.95,1) translate(-5.84,0)" font-size="42.00" stroke="#000" stroke-width="0.75">.</text><text transform="translate(46.70,0) scale(0.95,1) translate(-11.68,0)" font-size="42.00" stroke="#000" stroke-width="0.75">6</text></g><g transform="translate(70.49,820.00) scale(0.7800,1)"><text transform="translate(11.68,0) scale(0.95,1) translate(-11.68,0)" font-size="42.00" stroke="#000" stroke-width="0.75">2</text><text transform="translate(29.19,0) scale(0.95,1) translate(-5.84,0)" font-size="42.00" stroke="#000" stroke-width="0.75">.</text><text transform="translate(46.70,0) scale(0.95,1) translate(-11.68,0)" font-size="42.00" stroke="#000" stroke-width="0.75">0</text></g><g transform="translate(70.16,747.70) scale(0.7800,1)"><text transform="translate(11.68,0) scale(0.95,1) translate(-11.68,0)" font-size="42.00" stroke="#000" stroke-width="0.75">2</text><text transform="translate(29.19,0) scale(0.95,1) translate(-5.84,0)" font-size="42.00" stroke="#000" stroke-width="0.75">.</text><text transform="translate(46.70,0) scale(0.95,1) translate(-11.68,0)" font-size="42.00" stroke="#000" stroke-width="0.75">4</text></g><text transform="translate(540.04,808.69) scale(0.8110,1)" font-family='"Liberation Sans", sans-serif' font-size="66.74" fill="#000">(c)</text><text transform="translate(245.89,1291.43) scale(0.8483,1)" font-family='"Liberation Sans", sans-serif' font-size="48.87" fill="#000">Stress time [s]</text><path d="M9.60,1028.60L39.40,1039.20L39.40,1018.00ZM17.36,1029.66L36.80,1022.75L36.80,1036.58Z" fill="#000" fill-rule="evenodd" stroke="#000" stroke-width="0.4" stroke-linejoin="round"/><text transform="translate(39.40,1011.30) rotate(-90) scale(0.7434,1)" font-family='"Liberation Sans", sans-serif' font-size="52.62" fill="#000">V</text><text transform="translate(55.40,977.90) rotate(-90) scale(0.8687,1)" font-family='"Liberation Sans", sans-serif' font-size="31.54" fill="#000">TH</text><text transform="translate(39.18,875.62) rotate(-90) scale(0.8101,1)" font-family='"Liberation Sans", sans-serif' font-size="49.62" fill="#000">]</text><text transform="translate(39.40,909.30) rotate(-90) scale(0.7521,1)" font-family='"Liberation Sans", sans-serif' font-size="52.62" fill="#000">V</text><text transform="translate(39.18,923.95) rotate(-90) scale(0.8101,1)" font-family='"Liberation Sans", sans-serif' font-size="49.62" fill="#000">[</text><rect x="150.05" y="1101.15" width="18.2" height="21.7" rx="1.5" fill="#000"/><rect x="212.00" y="1083.55" width="18.2" height="21.7" rx="1.5" fill="#000"/><rect x="389.00" y="1059.65" width="18.2" height="21.7" rx="1.5" fill="#000"/><rect x="566.00" y="1039.45" width="18.2" height="21.7" rx="1.5" fill="#000"/><ellipse cx="159.15" cy="1089.60" rx="10.35" ry="12.6" fill="#ff2010"/><ellipse cx="221.10" cy="1052.80" rx="10.35" ry="12.6" fill="#ff2010"/><ellipse cx="398.10" cy="1018.20" rx="10.35" ry="12.6" fill="#ff2010"/><ellipse cx="575.10" cy="974.20" rx="10.35" ry="12.6" fill="#ff2010"/><path d="M159.15,1045.15L171.05,1070.75H147.25Z" fill="#1a00ff" stroke="#1a00ff" stroke-width="1.3" stroke-linejoin="round"/><path d="M221.10,1001.10L233.00,1026.70H209.20Z" fill="#1a00ff" stroke="#1a00ff" stroke-width="1.3" stroke-linejoin="round"/><path d="M398.10,914.60L410.00,940.20H386.20Z" fill="#1a00ff" stroke="#1a00ff" stroke-width="1.3" stroke-linejoin="round"/><path d="M575.10,875.15L587.00,900.75H563.20Z" fill="#1a00ff" stroke="#1a00ff" stroke-width="1.3" stroke-linejoin="round"/><path d="M159.15,1112.18L162.65,1109.92L166.14,1107.90L169.64,1106.07L173.13,1104.39L176.63,1102.84L180.12,1101.41L183.62,1100.07L187.11,1098.82L190.61,1097.63L194.10,1096.52L197.60,1095.46L201.09,1094.45L204.59,1093.49L208.09,1092.57L211.58,1091.69L215.08,1090.85L218.57,1090.04L222.07,1089.26L225.56,1088.51L229.06,1087.78L232.55,1087.08L236.05,1086.40L239.54,1085.74L243.04,1085.10L246.53,1084.48L250.03,1083.88L253.53,1083.29L257.02,1082.72L260.52,1082.16L264.01,1081.62L267.51,1081.09L271.00,1080.58L274.50,1080.07L277.99,1079.58L281.49,1079.09L284.98,1078.62L288.48,1078.16L291.97,1077.70L295.47,1077.26L298.97,1076.82L302.46,1076.40L305.96,1075.98L309.45,1075.57L312.95,1075.16L316.44,1074.76L319.94,1074.37L323.43,1073.99L326.93,1073.61L330.42,1073.24L333.92,1072.88L337.41,1072.52L340.91,1072.16L344.41,1071.81L347.90,1071.47L351.40,1071.13L354.89,1070.80L358.39,1070.47L361.88,1070.15L365.38,1069.83L368.87,1069.51L372.37,1069.20L375.86,1068.89L379.36,1068.59L382.85,1068.29L386.35,1067.99L389.84,1067.70L393.34,1067.41L396.84,1067.13L400.33,1066.85L403.83,1066.57L407.32,1066.29L410.82,1066.02L414.31,1065.75L417.81,1065.49L421.30,1065.22L424.80,1064.96L428.29,1064.71L431.79,1064.45L435.28,1064.20L438.78,1063.95L442.28,1063.70L445.77,1063.46L449.27,1063.22L452.76,1062.98L456.26,1062.74L459.75,1062.50L463.25,1062.27L466.74,1062.04L470.24,1061.81L473.73,1061.58L477.23,1061.36L480.72,1061.14L484.22,1060.92L487.72,1060.70L491.21,1060.48L494.71,1060.27L498.20,1060.05L501.70,1059.84L505.19,1059.63L508.69,1059.43L512.18,1059.22L515.68,1059.02L519.17,1058.81L522.67,1058.61L526.16,1058.41L529.66,1058.21L533.16,1058.02L536.65,1057.82L540.15,1057.63L543.64,1057.44L547.14,1057.25L550.63,1057.06L554.13,1056.87L557.62,1056.68L561.12,1056.50L564.61,1056.32L568.11,1056.13L571.60,1055.95L575.10,1055.77" stroke="#000" stroke-width="5.6" fill="none" stroke-linejoin="round" stroke-linecap="butt"/><path d="M159.15,1088.57L162.65,1085.59L166.14,1082.84L169.64,1080.29L173.13,1077.90L176.63,1075.65L180.12,1073.52L183.62,1071.49L187.11,1069.56L190.61,1067.72L194.10,1065.95L197.60,1064.25L201.09,1062.61L204.59,1061.02L208.09,1059.49L211.58,1058.00L215.08,1056.56L218.57,1055.17L222.07,1053.80L225.56,1052.48L229.06,1051.19L232.55,1049.93L236.05,1048.70L239.54,1047.49L243.04,1046.32L246.53,1045.16L250.03,1044.03L253.53,1042.93L257.02,1041.84L260.52,1040.78L264.01,1039.73L267.51,1038.70L271.00,1037.69L274.50,1036.70L277.99,1035.72L281.49,1034.76L284.98,1033.82L288.48,1032.88L291.97,1031.97L295.47,1031.06L298.97,1030.17L302.46,1029.29L305.96,1028.42L309.45,1027.56L312.95,1026.71L316.44,1025.88L319.94,1025.05L323.43,1024.24L326.93,1023.43L330.42,1022.64L333.92,1021.85L337.41,1021.07L340.91,1020.30L344.41,1019.54L347.90,1018.79L351.40,1018.04L354.89,1017.30L358.39,1016.57L361.88,1015.85L365.38,1015.13L368.87,1014.43L372.37,1013.72L375.86,1013.03L379.36,1012.34L382.85,1011.65L386.35,1010.98L389.84,1010.30L393.34,1009.64L396.84,1008.98L400.33,1008.32L403.83,1007.68L407.32,1007.03L410.82,1006.39L414.31,1005.76L417.81,1005.13L421.30,1004.51L424.80,1003.89L428.29,1003.27L431.79,1002.66L435.28,1002.06L438.78,1001.46L442.28,1000.86L445.77,1000.27L449.27,999.68L452.76,999.10L456.26,998.52L459.75,997.94L463.25,997.37L466.74,996.80L470.24,996.23L473.73,995.67L477.23,995.11L480.72,994.56L484.22,994.01L487.72,993.46L491.21,992.92L494.71,992.37L498.20,991.84L501.70,991.30L505.19,990.77L508.69,990.24L512.18,989.72L515.68,989.19L519.17,988.67L522.67,988.16L526.16,987.64L529.66,987.13L533.16,986.62L536.65,986.12L540.15,985.61L543.64,985.11L547.14,984.62L550.63,984.12L554.13,983.63L557.62,983.14L561.12,982.65L564.61,982.16L568.11,981.68L571.60,981.20L575.10,980.72" stroke="#ff2010" stroke-width="5.6" fill="none" stroke-linejoin="round" stroke-linecap="butt"/><path d="M159.15,1067.74L162.65,1063.44L166.14,1059.32L169.64,1055.36L173.13,1051.54L176.63,1047.86L180.12,1044.29L183.62,1040.84L187.11,1037.49L190.61,1034.23L194.10,1031.07L197.60,1027.99L201.09,1024.99L204.59,1022.07L208.09,1019.22L211.58,1016.43L215.08,1013.72L218.57,1011.06L222.07,1008.47L225.56,1005.93L229.06,1003.45L232.55,1001.03L236.05,998.65L239.54,996.32L243.04,994.05L246.53,991.81L250.03,989.63L253.53,987.48L257.02,985.38L260.52,983.32L264.01,981.30L267.51,979.32L271.00,977.37L274.50,975.47L277.99,973.59L281.49,971.76L284.98,969.95L288.48,968.18L291.97,966.45L295.47,964.74L298.97,963.07L302.46,961.42L305.96,959.81L309.45,958.22L312.95,956.66L316.44,955.14L319.94,953.63L323.43,952.16L326.93,950.71L330.42,949.29L333.92,947.89L337.41,946.52L340.91,945.17L344.41,943.84L347.90,942.54L351.40,941.27L354.89,940.01L358.39,938.78L361.88,937.57L365.38,936.38L368.87,935.21L372.37,934.07L375.86,932.94L379.36,931.84L382.85,930.75L386.35,929.69L389.84,928.65L393.34,927.62L396.84,926.61L400.33,925.63L403.83,924.66L407.32,923.71L410.82,922.77L414.31,921.86L417.81,920.96L421.30,920.08L424.80,919.22L428.29,918.37L431.79,917.54L435.28,916.73L438.78,915.93L442.28,915.15L445.77,914.39L449.27,913.64L452.76,912.91L456.26,912.19L459.75,911.49L463.25,910.80L466.74,910.13L470.24,909.47L473.73,908.82L477.23,908.20L480.72,907.58L484.22,906.98L487.72,906.39L491.21,905.82L494.71,905.26L498.20,904.72L501.70,904.19L505.19,903.67L508.69,903.16L512.18,902.67L515.68,902.19L519.17,901.72L522.67,901.27L526.16,900.83L529.66,900.40L533.16,899.98L536.65,899.58L540.15,899.18L543.64,898.80L547.14,898.44L550.63,898.08L554.13,897.73L557.62,897.40L561.12,897.08L564.61,896.77L568.11,896.47L571.60,896.18L575.10,895.90" stroke="#1a00ff" stroke-width="5.6" fill="none" stroke-linejoin="round" stroke-linecap="butt"/><path d="M335.80,1111.60V909.40" stroke="#000" stroke-width="2.7" fill="none" stroke-linecap="round"/><path d="M335.80,895.40L343.10,913.80Q335.80,912.20 328.50,913.80Z" fill="#000" stroke="#000" stroke-width="1.7" stroke-linejoin="round"/></g>
<g><path d="M851.17,733.80H1345.65M851.17,1185.05H1345.65" stroke="#000" stroke-width="2.5" fill="none"/><path d="M851.17,732.60V1186.25M1345.65,732.60V1186.25" stroke="#000" stroke-width="2.1" fill="none"/><path d="M860.00,1185.05v-9.5M860.00,733.80v9.5M904.15,1185.05v-5.0M904.15,733.80v5.0M948.30,1185.05v-9.5M948.30,733.80v9.5M992.45,1185.05v-5.0M992.45,733.80v5.0M1036.60,1185.05v-9.5M1036.60,733.80v9.5M1080.75,1185.05v-5.0M1080.75,733.80v5.0M1124.90,1185.05v-9.5M1124.90,733.80v9.5M1169.05,1185.05v-5.0M1169.05,733.80v5.0M1213.20,1185.05v-9.5M1213.20,733.80v9.5M1257.35,1185.05v-5.0M1257.35,733.80v5.0M1301.50,1185.05v-9.5M1301.50,733.80v9.5" stroke="#000" stroke-width="2" fill="none"/><path d="M851.17,1167.00h7.4M1345.65,1167.00h-7.4M851.17,1130.90h4.0M1345.65,1130.90h-4.0M851.17,1094.80h7.4M1345.65,1094.80h-7.4M851.17,1058.70h4.0M1345.65,1058.70h-4.0M851.17,1022.60h7.4M1345.65,1022.60h-7.4M851.17,986.50h4.0M1345.65,986.50h-4.0M851.17,950.40h7.4M1345.65,950.40h-7.4M851.17,914.30h4.0M1345.65,914.30h-4.0M851.17,878.20h7.4M1345.65,878.20h-7.4M851.17,842.10h4.0M1345.65,842.10h-4.0M851.17,806.00h7.4M1345.65,806.00h-7.4M851.17,769.90h4.0M1345.65,769.90h-4.0" stroke="#000" stroke-width="2.6" fill="none"/><g transform="translate(850.89,1226.95) scale(0.7800,1)"><text transform="translate(11.68,0) scale(0.95,1) translate(-11.68,0)" font-size="42.00" stroke="#000" stroke-width="0.75">0</text></g><g transform="translate(911.26,1226.95) scale(0.7800,1)"><path transform="translate(11.68,0) scale(0.95,1) translate(-11.68,0) scale(0.04200,-0.04200)" d="M372.6,0 L284.7,0 L284.7,560 C250,528 200,495 150,470 C130,460 118,454 108.9,450 L108.9,535 C165,560 220,600 266,643 C290,667 305,690 315.4,716 L372.6,716 Z" stroke="#000" stroke-width="17.857"/><text transform="translate(35.03,0) scale(0.95,1) translate(-11.68,0)" font-size="42.00" stroke="#000" stroke-width="0.75">0</text><text transform="translate(58.38,0) scale(0.95,1) translate(-11.68,0)" font-size="42.00" stroke="#000" stroke-width="0.75">0</text><text transform="translate(81.73,0) scale(0.95,1) translate(-11.68,0)" font-size="42.00" stroke="#000" stroke-width="0.75">0</text></g><g transform="translate(999.99,1226.95) scale(0.7800,1)"><text transform="translate(11.68,0) scale(0.95,1) translate(-11.68,0)" font-size="42.00" stroke="#000" stroke-width="0.75">2</text><text transform="translate(35.03,0) scale(0.95,1) translate(-11.68,0)" font-size="42.00" stroke="#000" stroke-width="0.75">0</text><text transform="translate(58.38,0) scale(0.95,1) translate(-11.68,0)" font-size="42.00" stroke="#000" stroke-width="0.75">0</text><text transform="translate(81.73,0) scale(0.95,1) translate(-11.68,0)" font-size="42.00" stroke="#000" stroke-width="0.75">0</text></g><g transform="translate(1088.49,1226.95) scale(0.7800,1)"><text transform="translate(11.68,0) scale(0.95,1) translate(-11.68,0)" font-size="42.00" stroke="#000" stroke-width="0.75">3</text><text transform="translate(35.03,0) scale(0.95,1) translate(-11.68,0)" font-size="42.00" stroke="#000" stroke-width="0.75">0</text><text transform="translate(58.38,0) scale(0.95,1) translate(-11.68,0)" font-size="42.00" stroke="#000" stroke-width="0.75">0</text><text transform="translate(81.73,0) scale(0.95,1) translate(-11.68,0)" font-size="42.00" stroke="#000" stroke-width="0.75">0</text></g><g transform="translate(1177.03,1226.95) scale(0.7800,1)"><text transform="translate(11.68,0) scale(0.95,1) translate(-11.68,0)" font-size="42.00" stroke="#000" stroke-width="0.75">4</text><text transform="translate(35.03,0) scale(0.95,1) translate(-11.68,0)" font-size="42.00" stroke="#000" stroke-width="0.75">0</text><text transform="translate(58.38,0) scale(0.95,1) translate(-11.68,0)" font-size="42.00" stroke="#000" stroke-width="0.75">0</text><text transform="translate(81.73,0) scale(0.95,1) translate(-11.68,0)" font-size="42.00" stroke="#000" stroke-width="0.75">0</text></g><g transform="translate(1265.05,1226.95) scale(0.7800,1)"><text transform="translate(11.68,0) scale(0.95,1) translate(-11.68,0)" font-size="42.00" stroke="#000" stroke-width="0.75">5</text><text transform="translate(35.03,0) scale(0.95,1) translate(-11.68,0)" font-size="42.00" stroke="#000" stroke-width="0.75">0</text><text transform="translate(58.38,0) scale(0.95,1) translate(-11.68,0)" font-size="42.00" stroke="#000" stroke-width="0.75">0</text><text transform="translate(81.73,0) scale(0.95,1) translate(-11.68,0)" font-size="42.00" stroke="#000" stroke-width="0.75">0</text></g><g transform="translate(797.91,1179.20) scale(0.7800,1)"><text transform="translate(11.68,0) scale(0.95,1) translate(-11.68,0)" font-size="42.00" stroke="#000" stroke-width="0.75">0</text><text transform="translate(29.19,0) scale(0.95,1) translate(-5.84,0)" font-size="42.00" stroke="#000" stroke-width="0.75">.</text><text transform="translate(46.70,0) scale(0.95,1) translate(-11.68,0)" font-size="42.00" stroke="#000" stroke-width="0.75">0</text></g><g transform="translate(797.58,1107.00) scale(0.7800,1)"><text transform="translate(11.68,0) scale(0.95,1) translate(-11.68,0)" font-size="42.00" stroke="#000" stroke-width="0.75">0</text><text transform="translate(29.19,0) scale(0.95,1) translate(-5.84,0)" font-size="42.00" stroke="#000" stroke-width="0.75">.</text><text transform="translate(46.70,0) scale(0.95,1) translate(-11.68,0)" font-size="42.00" stroke="#000" stroke-width="0.75">4</text></g><g transform="translate(798.04,1034.80) scale(0.7800,1)"><text transform="translate(11.68,0) scale(0.95,1) translate(-11.68,0)" font-size="42.00" stroke="#000" stroke-width="0.75">0</text><text transform="translate(29.19,0) scale(0.95,1) translate(-5.84,0)" font-size="42.00" stroke="#000" stroke-width="0.75">.</text><text transform="translate(46.70,0) scale(0.95,1) translate(-11.68,0)" font-size="42.00" stroke="#000" stroke-width="0.75">8</text></g><g transform="translate(798.27,962.60) scale(0.7800,1)"><path transform="translate(11.68,0) scale(0.95,1) translate(-11.68,0) scale(0.04200,-0.04200)" d="M372.6,0 L284.7,0 L284.7,560 C250,528 200,495 150,470 C130,460 118,454 108.9,450 L108.9,535 C165,560 220,600 266,643 C290,667 305,690 315.4,716 L372.6,716 Z" stroke="#000" stroke-width="17.857"/><text transform="translate(29.19,0) scale(0.95,1) translate(-5.84,0)" font-size="42.00" stroke="#000" stroke-width="0.75">.</text><text transform="translate(46.70,0) scale(0.95,1) translate(-11.68,0)" font-size="42.00" stroke="#000" stroke-width="0.75">2</text></g><g transform="translate(798.08,890.40) scale(0.7800,1)"><path transform="translate(11.68,0) scale(0.95,1) translate(-11.68,0) scale(0.04200,-0.04200)" d="M372.6,0 L284.7,0 L284.7,560 C250,528 200,495 150,470 C130,460 118,454 108.9,450 L108.9,535 C165,560 220,600 266,643 C290,667 305,690 315.4,716 L372.6,716 Z" stroke="#000" stroke-width="17.857"/><text transform="translate(29.19,0) scale(0.95,1) translate(-5.84,0)" font-size="42.00" stroke="#000" stroke-width="0.75">.</text><text transform="translate(46.70,0) scale(0.95,1) translate(-11.68,0)" font-size="42.00" stroke="#000" stroke-width="0.75">6</text></g><g transform="translate(797.91,818.20) scale(0.7800,1)"><text transform="translate(11.68,0) scale(0.95,1) translate(-11.68,0)" font-size="42.00" stroke="#000" stroke-width="0.75">2</text><text transform="translate(29.19,0) scale(0.95,1) translate(-5.84,0)" font-size="42.00" stroke="#000" stroke-width="0.75">.</text><text transform="translate(46.70,0) scale(0.95,1) translate(-11.68,0)" font-size="42.00" stroke="#000" stroke-width="0.75">0</text></g><g transform="translate(797.58,746.00) scale(0.7800,1)"><text transform="translate(11.68,0) scale(0.95,1) translate(-11.68,0)" font-size="42.00" stroke="#000" stroke-width="0.75">2</text><text transform="translate(29.19,0) scale(0.95,1) translate(-5.84,0)" font-size="42.00" stroke="#000" stroke-width="0.75">.</text><text transform="translate(46.70,0) scale(0.95,1) translate(-11.68,0)" font-size="42.00" stroke="#000" stroke-width="0.75">4</text></g><text transform="translate(1267.22,807.64) scale(0.8134,1)" font-family='"Liberation Sans", sans-serif' font-size="66.95" fill="#000">(d)</text><text transform="translate(973.20,1289.16) scale(0.8479,1)" font-family='"Liberation Sans", sans-serif' font-size="48.77" fill="#000">Stress time [s]</text><path d="M736.90,1027.15L766.60,1037.60L766.60,1016.70ZM744.73,1028.21L764.00,1021.43L764.00,1034.99Z" fill="#000" fill-rule="evenodd" stroke="#000" stroke-width="0.4" stroke-linejoin="round"/><text transform="translate(766.60,1009.70) rotate(-90) scale(0.7353,1)" font-family='"Liberation Sans", sans-serif' font-size="53.20" fill="#000">V</text><text transform="translate(782.30,976.30) rotate(-90) scale(0.8850,1)" font-family='"Liberation Sans", sans-serif' font-size="30.96" fill="#000">TH</text><text transform="translate(766.13,874.03) rotate(-90) scale(0.8369,1)" font-family='"Liberation Sans", sans-serif' font-size="49.84" fill="#000">]</text><text transform="translate(766.60,906.89) rotate(-90) scale(0.7239,1)" font-family='"Liberation Sans", sans-serif' font-size="53.20" fill="#000">V</text><text transform="translate(766.13,921.68) rotate(-90) scale(0.7562,1)" font-family='"Liberation Sans", sans-serif' font-size="49.84" fill="#000">[</text><rect x="877.39" y="1134.85" width="18.2" height="21.7" rx="1.5" fill="#000"/><rect x="939.20" y="1122.45" width="18.2" height="21.7" rx="1.5" fill="#000"/><rect x="1115.80" y="1106.35" width="18.2" height="21.7" rx="1.5" fill="#000"/><rect x="1292.40" y="1092.65" width="18.2" height="21.7" rx="1.5" fill="#000"/><ellipse cx="886.49" cy="1131.20" rx="10.35" ry="12.6" fill="#ff2010"/><ellipse cx="948.30" cy="1107.80" rx="10.35" ry="12.6" fill="#ff2010"/><ellipse cx="1124.90" cy="1075.50" rx="10.35" ry="12.6" fill="#ff2010"/><ellipse cx="1301.50" cy="1053.90" rx="10.35" ry="12.6" fill="#ff2010"/><path d="M886.49,1044.05L898.39,1069.65H874.59Z" fill="#1a00ff" stroke="#1a00ff" stroke-width="1.3" stroke-linejoin="round"/><path d="M948.30,1000.75L960.20,1026.35H936.40Z" fill="#1a00ff" stroke="#1a00ff" stroke-width="1.3" stroke-linejoin="round"/><path d="M1124.90,913.05L1136.80,938.65H1113.00Z" fill="#1a00ff" stroke="#1a00ff" stroke-width="1.3" stroke-linejoin="round"/><path d="M1301.50,873.20L1313.40,898.80H1289.60Z" fill="#1a00ff" stroke="#1a00ff" stroke-width="1.3" stroke-linejoin="round"/><path d="M886.49,1147.06L889.98,1145.77L893.46,1144.58L896.95,1143.48L900.44,1142.45L903.93,1141.48L907.41,1140.56L910.90,1139.69L914.39,1138.87L917.88,1138.08L921.36,1137.33L924.85,1136.61L928.34,1135.91L931.83,1135.25L935.31,1134.60L938.80,1133.98L942.29,1133.38L945.78,1132.80L949.26,1132.23L952.75,1131.68L956.24,1131.15L959.73,1130.63L963.21,1130.12L966.70,1129.63L970.19,1129.15L973.68,1128.68L977.16,1128.23L980.65,1127.78L984.14,1127.34L987.63,1126.92L991.11,1126.50L994.60,1126.09L998.09,1125.69L1001.58,1125.29L1005.06,1124.91L1008.55,1124.53L1012.04,1124.16L1015.53,1123.79L1019.01,1123.43L1022.50,1123.08L1025.99,1122.74L1029.48,1122.40L1032.96,1122.06L1036.45,1121.73L1039.94,1121.41L1043.43,1121.09L1046.91,1120.78L1050.40,1120.47L1053.89,1120.16L1057.38,1119.86L1060.86,1119.57L1064.35,1119.28L1067.84,1118.99L1071.33,1118.71L1074.81,1118.43L1078.30,1118.15L1081.79,1117.88L1085.28,1117.61L1088.76,1117.35L1092.25,1117.09L1095.74,1116.83L1099.23,1116.58L1102.71,1116.32L1106.20,1116.08L1109.69,1115.83L1113.18,1115.59L1116.66,1115.35L1120.15,1115.11L1123.64,1114.88L1127.13,1114.65L1130.61,1114.42L1134.10,1114.19L1137.59,1113.97L1141.08,1113.75L1144.56,1113.53L1148.05,1113.31L1151.54,1113.10L1155.03,1112.89L1158.51,1112.68L1162.00,1112.47L1165.49,1112.27L1168.98,1112.06L1172.46,1111.86L1175.95,1111.66L1179.44,1111.47L1182.93,1111.27L1186.41,1111.08L1189.90,1110.89L1193.39,1110.70L1196.88,1110.51L1200.36,1110.32L1203.85,1110.14L1207.34,1109.96L1210.83,1109.78L1214.31,1109.60L1217.80,1109.42L1221.29,1109.25L1224.78,1109.07L1228.26,1108.90L1231.75,1108.73L1235.24,1108.56L1238.73,1108.39L1242.21,1108.22L1245.70,1108.06L1249.19,1107.90L1252.68,1107.73L1256.16,1107.57L1259.65,1107.41L1263.14,1107.26L1266.63,1107.10L1270.11,1106.94L1273.60,1106.79L1277.09,1106.64L1280.58,1106.48L1284.06,1106.33L1287.55,1106.18L1291.04,1106.04L1294.53,1105.89L1298.01,1105.74L1301.50,1105.60" stroke="#000" stroke-width="5.6" fill="none" stroke-linejoin="round" stroke-linecap="butt"/><path d="M886.49,1133.19L889.98,1130.61L893.46,1128.25L896.95,1126.07L900.44,1124.05L903.93,1122.15L907.41,1120.37L910.90,1118.69L914.39,1117.09L917.88,1115.58L921.36,1114.13L924.85,1112.74L928.34,1111.42L931.83,1110.14L935.31,1108.91L938.80,1107.73L942.29,1106.59L945.78,1105.49L949.26,1104.42L952.75,1103.38L956.24,1102.38L959.73,1101.40L963.21,1100.46L966.70,1099.53L970.19,1098.63L973.68,1097.76L977.16,1096.90L980.65,1096.07L984.14,1095.26L987.63,1094.46L991.11,1093.68L994.60,1092.92L998.09,1092.18L1001.58,1091.45L1005.06,1090.73L1008.55,1090.03L1012.04,1089.35L1015.53,1088.67L1019.01,1088.01L1022.50,1087.36L1025.99,1086.73L1029.48,1086.10L1032.96,1085.48L1036.45,1084.88L1039.94,1084.28L1043.43,1083.70L1046.91,1083.12L1050.40,1082.56L1053.89,1082.00L1057.38,1081.45L1060.86,1080.91L1064.35,1080.38L1067.84,1079.85L1071.33,1079.34L1074.81,1078.83L1078.30,1078.32L1081.79,1077.83L1085.28,1077.34L1088.76,1076.86L1092.25,1076.38L1095.74,1075.91L1099.23,1075.45L1102.71,1074.99L1106.20,1074.54L1109.69,1074.09L1113.18,1073.65L1116.66,1073.22L1120.15,1072.79L1123.64,1072.36L1127.13,1071.94L1130.61,1071.53L1134.10,1071.12L1137.59,1070.71L1141.08,1070.31L1144.56,1069.91L1148.05,1069.52L1151.54,1069.14L1155.03,1068.75L1158.51,1068.37L1162.00,1068.00L1165.49,1067.63L1168.98,1067.26L1172.46,1066.90L1175.95,1066.54L1179.44,1066.18L1182.93,1065.83L1186.41,1065.48L1189.90,1065.13L1193.39,1064.79L1196.88,1064.45L1200.36,1064.12L1203.85,1063.79L1207.34,1063.46L1210.83,1063.13L1214.31,1062.81L1217.80,1062.49L1221.29,1062.17L1224.78,1061.86L1228.26,1061.55L1231.75,1061.24L1235.24,1060.93L1238.73,1060.63L1242.21,1060.33L1245.70,1060.03L1249.19,1059.74L1252.68,1059.45L1256.16,1059.16L1259.65,1058.87L1263.14,1058.58L1266.63,1058.30L1270.11,1058.02L1273.60,1057.74L1277.09,1057.47L1280.58,1057.20L1284.06,1056.93L1287.55,1056.66L1291.04,1056.39L1294.53,1056.13L1298.01,1055.86L1301.50,1055.60" stroke="#ff2010" stroke-width="5.6" fill="none" stroke-linejoin="round" stroke-linecap="butt"/><path d="M886.49,1074.88L889.98,1068.41L893.46,1062.48L896.95,1057.01L900.44,1051.93L903.93,1047.18L907.41,1042.71L910.90,1038.51L914.39,1034.52L917.88,1030.74L921.36,1027.14L924.85,1023.70L928.34,1020.41L931.83,1017.26L935.31,1014.24L938.80,1011.33L942.29,1008.53L945.78,1005.83L949.26,1003.23L952.75,1000.71L956.24,998.27L959.73,995.91L963.21,993.62L966.70,991.40L970.19,989.25L973.68,987.15L977.16,985.12L980.65,983.14L984.14,981.21L987.63,979.33L991.11,977.50L994.60,975.72L998.09,973.98L1001.58,972.28L1005.06,970.62L1008.55,969.00L1012.04,967.42L1015.53,965.87L1019.01,964.36L1022.50,962.88L1025.99,961.43L1029.48,960.02L1032.96,958.63L1036.45,957.27L1039.94,955.94L1043.43,954.64L1046.91,953.36L1050.40,952.10L1053.89,950.88L1057.38,949.67L1060.86,948.49L1064.35,947.33L1067.84,946.19L1071.33,945.08L1074.81,943.98L1078.30,942.90L1081.79,941.85L1085.28,940.81L1088.76,939.79L1092.25,938.79L1095.74,937.80L1099.23,936.83L1102.71,935.88L1106.20,934.95L1109.69,934.03L1113.18,933.13L1116.66,932.24L1120.15,931.36L1123.64,930.50L1127.13,929.66L1130.61,928.83L1134.10,928.01L1137.59,927.21L1141.08,926.41L1144.56,925.64L1148.05,924.87L1151.54,924.11L1155.03,923.37L1158.51,922.64L1162.00,921.92L1165.49,921.21L1168.98,920.52L1172.46,919.83L1175.95,919.16L1179.44,918.49L1182.93,917.83L1186.41,917.19L1189.90,916.55L1193.39,915.93L1196.88,915.31L1200.36,914.71L1203.85,914.11L1207.34,913.52L1210.83,912.94L1214.31,912.37L1217.80,911.81L1221.29,911.25L1224.78,910.71L1228.26,910.17L1231.75,909.64L1235.24,909.12L1238.73,908.61L1242.21,908.10L1245.70,907.60L1249.19,907.11L1252.68,906.63L1256.16,906.15L1259.65,905.68L1263.14,905.22L1266.63,904.76L1270.11,904.31L1273.60,903.87L1277.09,903.44L1280.58,903.01L1284.06,902.58L1287.55,902.17L1291.04,901.76L1294.53,901.35L1298.01,900.96L1301.50,900.57" stroke="#1a00ff" stroke-width="5.6" fill="none" stroke-linejoin="round" stroke-linecap="butt"/><path d="M1050.70,1163.90V905.60" stroke="#000" stroke-width="2.7" fill="none" stroke-linecap="round"/><path d="M1050.70,891.60L1058.00,910.00Q1050.70,908.40 1043.40,910.00Z" fill="#000" stroke="#000" stroke-width="1.7" stroke-linejoin="round"/></g><ellipse cx="1049.8" cy="19.3" rx="2.3" ry="1.1" fill="#555"/><circle cx="132.9" cy="60" r="0.9" fill="#bbb"/><circle cx="863.7" cy="98.5" r="0.9" fill="#bbb"/></svg></body></html>
